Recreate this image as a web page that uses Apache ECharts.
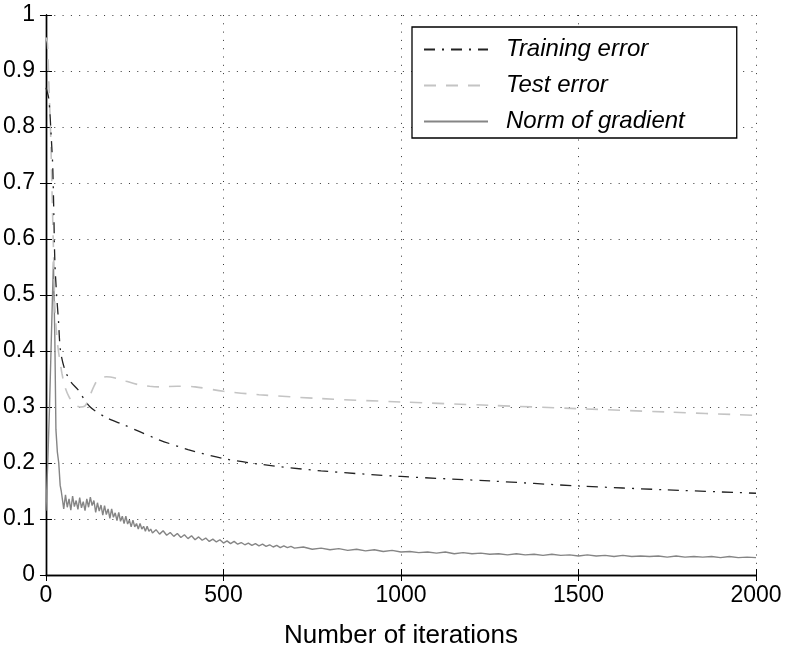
<!DOCTYPE html>
<html><head><meta charset="utf-8">
<script src="https://cdn.jsdelivr.net/npm/echarts@6/dist/echarts.min.js"></script>
<style>html,body{margin:0;padding:0;background:#fff}#c{width:786px;height:654px}</style>
</head><body><div id="c"></div>
<script>
const seriesNames = ['Training error', 'Test error', 'Norm of gradient'];
const xAxisTitle = 'Number of iterations';

const trainIter = [0, 8, 15, 19, 22, 25, 30, 35, 41, 53, 70, 90, 123, 170, 220, 264, 316, 400, 500, 600, 775, 1000, 1250, 1500, 1750, 2000];
const trainErr  = [0.87, 0.85, 0.78, 0.73, 0.65, 0.56, 0.5, 0.456, 0.40, 0.367, 0.345, 0.331, 0.301, 0.281, 0.268, 0.256, 0.242, 0.224, 0.208, 0.198, 0.186, 0.176, 0.168, 0.159, 0.152, 0.146];

const testIter = [0, 4, 8, 13, 18, 22, 25, 30, 35, 39, 45, 53, 65, 77, 95, 110, 123, 135, 147, 170, 200, 226, 260, 292, 320, 370, 420, 500, 600, 775, 1000, 1250, 1500, 1750, 2000];
const testErr  = [0.96, 0.95, 0.88, 0.79, 0.66, 0.56, 0.48, 0.43, 0.40, 0.384, 0.36, 0.337, 0.318, 0.307, 0.30, 0.302, 0.319, 0.337, 0.349, 0.354, 0.351, 0.346, 0.34, 0.337, 0.336, 0.337, 0.336, 0.328, 0.322, 0.315, 0.309, 0.303, 0.297, 0.291, 0.285];

const gradIter = [0, 5, 10, 15, 21, 25, 28, 32, 36, 40, 43,
  45, 50, 55, 60, 65, 70, 75, 80, 85, 90, 95, 100, 105, 110, 115, 120, 125, 130, 135, 140, 145, 150, 155, 160, 165, 170, 175, 180, 185, 190, 195, 200,
  205, 210, 215, 220, 225, 230, 235, 240, 245, 250, 255, 260, 265, 270, 275, 280, 285, 290, 295, 300,
  310, 320, 330, 340, 350, 360, 370, 380, 390, 400, 410, 420, 430, 440, 450, 460, 470, 480, 490, 500,
  510, 520, 530, 540, 550, 560, 570, 580, 590, 600, 610, 620, 630, 640, 650, 660, 670, 680, 690, 700,
  725, 750, 775, 800, 825, 850, 875, 900, 925, 950, 975, 1000, 1025, 1050, 1075, 1100, 1125, 1150, 1175, 1200,
  1225, 1250, 1275, 1300, 1325, 1350, 1375, 1400, 1425, 1450, 1475, 1500, 1525, 1550, 1575, 1600, 1625, 1650, 1675, 1700,
  1725, 1750, 1775, 1800, 1825, 1850, 1875, 1900, 1925, 1950, 1975, 2000];
const gradNorm = [0.115, 0.2, 0.3, 0.42, 0.56, 0.42, 0.26, 0.22, 0.2, 0.16, 0.15,
  0.152, 0.118, 0.143, 0.121, 0.136, 0.116, 0.141, 0.122, 0.133, 0.117, 0.138, 0.12, 0.131, 0.115, 0.136, 0.121, 0.139, 0.124, 0.133, 0.112, 0.129, 0.114, 0.125, 0.107, 0.124, 0.108, 0.118, 0.101, 0.118, 0.103, 0.111, 0.097,
  0.112, 0.096, 0.105, 0.092, 0.105, 0.091, 0.098, 0.086, 0.098, 0.086, 0.092, 0.082, 0.092, 0.082, 0.087, 0.078, 0.087, 0.078, 0.082, 0.075,
  0.081, 0.073, 0.079, 0.071, 0.076, 0.069, 0.074, 0.067, 0.072, 0.065, 0.07, 0.063, 0.068, 0.062, 0.066, 0.06, 0.064, 0.059, 0.063, 0.057,
  0.061, 0.056, 0.06, 0.055, 0.058, 0.054, 0.057, 0.053, 0.056, 0.052, 0.055, 0.051, 0.054, 0.05, 0.053, 0.049, 0.052, 0.049, 0.051, 0.048,
  0.05, 0.046, 0.048, 0.045, 0.047, 0.044, 0.046, 0.043, 0.045, 0.042, 0.044, 0.041, 0.042, 0.04, 0.041, 0.039, 0.041, 0.038, 0.04, 0.038,
  0.039, 0.037, 0.038, 0.036, 0.038, 0.036, 0.037, 0.035, 0.037, 0.035, 0.036, 0.034, 0.036, 0.034, 0.035, 0.033, 0.035, 0.033, 0.034, 0.033,
  0.034, 0.032, 0.034, 0.032, 0.033, 0.032, 0.033, 0.031, 0.033, 0.031, 0.032, 0.031];

const xMin = 0, xMax = 2000, xStep = 500;
const yMin = 0, yMax = 1, yStep = 0.1;

const FONT = '"Liberation Sans", Arial, Helvetica, sans-serif';
const pairs = (xs, ys) => xs.map((x, i) => [x, ys[i]]);

const chart = echarts.init(document.getElementById('c'), null, {renderer: 'canvas'});
const frameLine = {show: true, lineStyle: {color: '#000', width: 1.4}};
const tick = {show: true, inside: true, length: 6, lineStyle: {color: '#000', width: 1}};
const grid = {show: true, lineStyle: {color: '#333', width: 1, type: [1, 7.3]}};

chart.setOption({
  animation: false,
  backgroundColor: '#fff',
  grid: {left: 44, right: 30, top: 15, bottom: 77, containLabel: false},
  legend: {
    orient: 'vertical', left: 412, top: 27,
    backgroundColor: '#fff', borderColor: '#000', borderWidth: 1.3,
    padding: [10, 52, 4, 11], itemGap: 11, itemWidth: 64, itemHeight: 14,
    itemStyle: {opacity: 0},
    textStyle: {fontFamily: FONT, fontSize: 24, fontStyle: 'italic', color: '#000', padding: [0, 0, 0, 13], lineHeight: 25},
    data: seriesNames
  },
  xAxis: [{
    type: 'value', min: xMin, max: xMax, interval: xStep, position: 'bottom',
    axisLine: frameLine, axisTick: tick, splitLine: grid,
    axisLabel: {fontFamily: FONT, fontSize: 23, color: '#000', margin: 9, formatter: v => String(v)},
    name: xAxisTitle, nameLocation: 'middle', nameGap: 48,
    nameTextStyle: {fontFamily: FONT, fontSize: 26, color: '#000'}
  }, {
    type: 'value', min: xMin, max: xMax, interval: xStep, position: 'top',
    axisLine: frameLine, axisTick: tick, splitLine: {show: false}, axisLabel: {show: false}
  }],
  yAxis: [{
    type: 'value', min: yMin, max: yMax, interval: yStep, position: 'left',
    axisLine: frameLine, axisTick: tick, splitLine: grid,
    axisLabel: {fontFamily: FONT, fontSize: 23, color: '#000', margin: 11}
  }, {
    type: 'value', min: yMin, max: yMax, interval: yStep, position: 'right',
    axisLine: frameLine, axisTick: tick, splitLine: {show: false}, axisLabel: {show: false}
  }],
  series: [{
    name: seriesNames[0], type: 'line', showSymbol: false, symbol: 'none',
    data: pairs(trainIter, trainErr), smooth: 0.3,
    lineStyle: {color: '#222', width: 1.3, type: [11, 7, 2, 7]}, itemStyle: {color: '#222'}, z: 4
  }, {
    name: seriesNames[1], type: 'line', showSymbol: false, symbol: 'none',
    data: pairs(testIter, testErr), smooth: 0.3,
    lineStyle: {color: '#c4c4c4', width: 1.6, type: [12, 10]}, itemStyle: {color: '#c4c4c4'}, z: 3
  }, {
    name: seriesNames[2], type: 'line', showSymbol: false, symbol: 'none',
    data: pairs(gradIter, gradNorm),
    lineStyle: {color: '#858585', width: 1.4, type: 'solid'}, itemStyle: {color: '#858585'}, z: 2
  }]
});
</script>
</body></html>
